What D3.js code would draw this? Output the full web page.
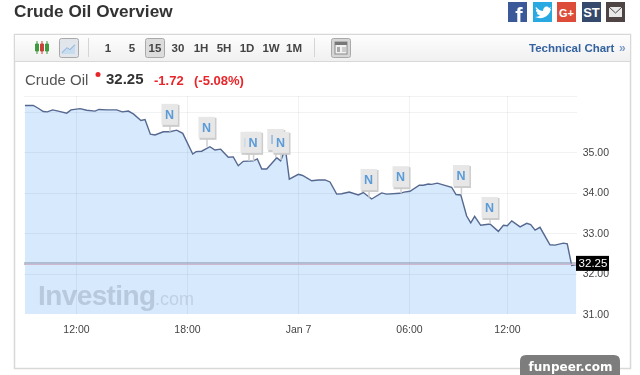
<!DOCTYPE html>
<html>
<head>
<meta charset="utf-8">
<script src="https://cdn.jsdelivr.net/npm/d3@7/dist/d3.min.js"></script>
<style>
html, body { margin: 0; padding: 0; background: #fff; overflow: hidden; }
svg { display: block; font-family: "Liberation Sans", Arial, sans-serif; filter: blur(0.4px); }
</style>
</head>
<body>
<div class="main"></div>
<script>
// hours counted from 12:00 on Jan 6
let hours = [-2.76,-2.31,-2.04,-1.77,-1.55,-1.26,-0.96,-0.50,-0.27,0.22,0.58,1.03,1.24,1.66,2.20,2.50,2.83,3.10,3.51,3.73,4.02,4.27,4.72,5.08,5.44,5.77,6.31,6.49,6.79,7.24,7.51,7.82,8.23,8.50,8.77,9.04,9.58,9.80,10.04,10.31,10.85,11.06,11.24,11.35,11.53,12.02,12.25,12.74,13.10,13.46,13.73,14.09,14.36,14.77,15.26,15.53,15.98,16.52,16.79,17.51,17.73,18.06,18.63,18.88,19.18,19.39,19.73,20.61,20.88,21.17,21.53,21.78,22.02,22.39,22.96,23.47,23.78,24.02,24.29,24.80,25.21,25.45,25.72,26.02,26.63,26.94,27.45,27.69,27.96,28.23]
let prices = [36.15,36.15,36.08,36.00,35.99,36.04,36.01,35.96,36.04,36.07,36.03,36.01,36.05,36.04,36.04,35.99,36.01,35.94,35.78,35.80,35.44,35.42,35.50,35.50,35.54,35.46,34.95,35.01,35.02,35.13,35.05,35.07,34.87,34.88,34.66,34.77,34.78,34.83,34.58,34.58,34.86,34.78,34.99,34.97,34.33,34.45,34.42,34.29,34.31,34.31,34.26,33.96,33.97,34.01,33.94,34.00,33.84,33.99,33.96,33.98,34.01,34.03,34.18,34.18,34.21,34.20,34.23,34.13,33.95,33.94,33.42,33.25,33.41,33.19,33.22,33.04,33.19,33.18,33.30,33.15,33.24,33.21,33.07,33.14,32.71,32.70,32.75,32.73,32.20,32.22]
let lastPrice = 32.25

let xTicks = [0, 6, 12, 18, 24]
let xLabels = ['12:00', '18:00', 'Jan 7', '06:00', '12:00']
let yTicks = [35, 34, 33, 32, 31]
let yGrid = [36, 35, 34, 33, 32, 31]

// news flags: where the pole stands, price at the foot of the box, price at the foot of the pole
let flagHours = [5.08, 7.08, 9.35, 9.6, 10.8, 11.08, 15.84, 17.57, 21.21, 22.96]
let flagTops = [35.67, 35.35, 34.98, 34.98, 35.05, 34.98, 34.06, 34.13, 34.16, 33.37]
let flagFoots = [35.5, 35.13, 34.78, 34.78, 34.86, 34.8, 33.87, 33.98, 33.95, 33.22]

let intervals = ['1', '5', '15', '30', '1H', '5H', '1D', '1W', '1M']
let intervalX = [108, 132, 155, 178, 201, 224, 247, 271, 294]

let plot = {left: 24, right: 577, top: 96, bottom: 314}

let svg = d3.select('.main').append('svg').attr('width', 640).attr('height', 375)

// the feed skips hours after 06:00 so the last stretch is squeezed
let xScale = d3.scaleLinear().domain([0, 18, 24]).range([76, 409, 507])
let yScale = d3.scaleLinear().domain([31, 35]).range([plot.bottom, 152])

// page title and frame
svg.append('text').attr('x', 14).attr('y', 17).text('Crude Oil Overview')
  .style('font-size', '17.2px').style('font-weight', 'bold').style('fill', '#333')

let grad = svg.append('defs').append('linearGradient').attr('id', 'bar').attr('x2', 0).attr('y2', 1)
grad.append('stop').attr('offset', 0).attr('stop-color', '#fdfdfd')
grad.append('stop').attr('offset', 1).attr('stop-color', '#f0f0f0')

svg.append('rect').attr('x', 14.5).attr('y', 34.5).attr('width', 616).attr('height', 334)
  .style('fill', '#fff').style('stroke', '#d8d8d8').style('stroke-width', 1.5)
svg.append('rect').attr('x', 15).attr('y', 35).attr('width', 615).attr('height', 26)
  .style('fill', 'url(#bar)')
svg.append('line').attr('x1', 15).attr('x2', 630).attr('y1', 61.5).attr('y2', 61.5).style('stroke', '#d8d8d8')

// social buttons
let social = [
  {x: 508, c: '#3b5998', t: 'f', s: 22},
  {x: 533, c: '#29a9e1', t: '', s: 0},
  {x: 557, c: '#dd4b39', t: 'G+', s: 11},
  {x: 582, c: '#34496b', t: 'ST', s: 13},
  {x: 606, c: '#4d4443', t: '', s: 0}
]
let btn = svg.append('g').selectAll('g').data(social).enter().append('g')
  .attr('transform', d => `translate(${d.x}, 2)`)
btn.append('rect').attr('width', 19).attr('height', 20).style('fill', d => d.c)
btn.append('text').text(d => d.t).attr('x', d => d.t == 'f' ? 11 : 9.5).attr('y', d => d.t == 'f' ? 21 : 14.5)
  .attr('text-anchor', 'middle').style('fill', '#fff').style('font-weight', 'bold').style('font-size', d => d.s + 'px')
svg.append('path').attr('transform', 'translate(533, 2)')
  .attr('d', 'M3 5 C6 8 8 9 10 9 C10 5 14 3 16 6 L18 5 L17 7 L18 7 C16 15 9 18 2 15 C5 15 6 14 7 13 C5 13 4 12 4 11 L5 11 C3 10 3 9 3 8 L4 8 C3 7 2 6 3 5 Z')
  .style('fill', '#fff')
svg.append('rect').attr('x', 609).attr('y', 7).attr('width', 13).attr('height', 10).style('fill', '#e8e8e8')
svg.append('path').attr('d', 'M609 7 L615.5 13 L622 7').style('fill', 'none').style('stroke', '#4d4443')

// toolbar
let drawButton = (x, w, fill) => svg.append('rect').attr('x', x + 0.5).attr('y', 38.5).attr('width', w).attr('height', 19).attr('rx', 2)
  .style('fill', fill).style('stroke', '#a9a9a9')
drawButton(59, 19, '#e1e6ec')
drawButton(145, 19, '#dcdcdc')
drawButton(331, 19, '#d6d6d6')

svg.append('path').attr('d', 'M62 53 L67 48 L70 50 L75 45').style('fill', 'none').style('stroke', '#7fa6cf').style('stroke-width', 1.3)
svg.append('path').attr('d', 'M62 53 L67 48 L70 50 L75 45 L75 54 L62 54 Z').style('fill', '#c8dcf0')
svg.append('rect').attr('x', 335).attr('y', 42).attr('width', 12).attr('height', 12).style('fill', '#f1f1f1').style('stroke', '#8a8a8a')
svg.append('rect').attr('x', 335).attr('y', 42).attr('width', 12).attr('height', 3).style('fill', '#777')
svg.append('rect').attr('x', 337).attr('y', 47).attr('width', 3).attr('height', 5).style('fill', '#aaa')
svg.append('rect').attr('x', 342).attr('y', 47).attr('width', 4).attr('height', 5).style('fill', '#ccc')

let candles = [[37, '#3f9a3f'], [42, '#c8413b'], [47, '#3f9a3f']]
svg.append('g').selectAll('path').data(candles).enter().append('path')
  .attr('d', d => `M${d[0]} 41 V54 M${d[0] - 1.5} 44 H${d[0] + 1.5} V51 H${d[0] - 1.5} Z`)
  .style('fill', d => d[1]).style('stroke', d => d[1])

svg.append('g').selectAll('line').data([88, 314]).enter().append('line')
  .attr('x1', d => d + 0.5).attr('x2', d => d + 0.5).attr('y1', 38).attr('y2', 57).style('stroke', '#d5d5d5')

svg.append('g').selectAll('text').data(intervals).enter().append('text')
  .text(d => d).attr('x', (d, i) => intervalX[i]).attr('y', 51.5).attr('text-anchor', 'middle')
  .style('font-size', '11.5px').style('font-weight', 'bold').style('fill', '#444')

svg.append('text').attr('x', 529).attr('y', 52).text('Technical Chart')
  .style('font-size', '11.5px').style('font-weight', 'bold').style('fill', '#35639f')
svg.append('text').attr('x', 619).attr('y', 52).text('»')
  .style('font-size', '12px').style('font-weight', 'bold').style('fill', '#7e9cc6')

// quote line
svg.append('text').attr('x', 25).attr('y', 85).text('Crude Oil').style('font-size', '15px').style('fill', '#555')
svg.append('circle').attr('cx', 98).attr('cy', 74.5).attr('r', 2.5).style('fill', '#e8262a')
svg.append('text').attr('x', 106).attr('y', 84).text('32.25').style('font-size', '15px').style('font-weight', 'bold').style('fill', '#333')
svg.append('text').attr('x', 154).attr('y', 84.5).text('-1.72').style('font-size', '13px').style('font-weight', 'bold').style('fill', '#e8262a')
svg.append('text').attr('x', 194).attr('y', 84.5).text('(-5.08%)').style('font-size', '13px').style('font-weight', 'bold').style('fill', '#e8262a')

// chart
svg.append('clipPath').attr('id', 'plot').append('rect')
  .attr('x', plot.left).attr('y', plot.top).attr('width', plot.right - plot.left).attr('height', plot.bottom - plot.top)

let points = hours.map((h, i) => [h, prices[i]])
let area = d3.area().x(d => xScale(d[0])).y0(plot.bottom).y1(d => yScale(d[1]))
let line = d3.line().x(d => xScale(d[0])).y(d => yScale(d[1]))

let chart = svg.append('g').attr('clip-path', 'url(#plot)')

chart.append('path').attr('d', area(points)).style('fill', '#d6e9fd')

// watermark sits on the area, under the line
chart.append('text').attr('x', 38).attr('y', 305).text('Investing')
  .style('font-size', '28px').style('font-weight', 'bold').style('fill', '#b8c9de').style('letter-spacing', '-0.6px')
chart.append('text').attr('x', 155).attr('y', 305).text('.com')
  .style('font-size', '18px').style('fill', '#c0d1e6')

chart.append('g').selectAll('line').data(yGrid).enter().append('line')
  .attr('x1', plot.left).attr('x2', plot.right).attr('y1', d => Math.round(yScale(d)) + 0.5).attr('y2', d => Math.round(yScale(d)) + 0.5)
  .style('stroke', 'rgba(60,70,90,0.07)')
chart.append('g').selectAll('line').data(xTicks).enter().append('line')
  .attr('x1', d => Math.round(xScale(d)) + 0.5).attr('x2', d => Math.round(xScale(d)) + 0.5).attr('y1', plot.top).attr('y2', plot.bottom)
  .style('stroke', 'rgba(60,70,90,0.07)')
chart.append('line').attr('x1', plot.left).attr('x2', plot.right).attr('y1', plot.top + 0.5).attr('y2', plot.top + 0.5)
  .style('stroke', 'rgba(60,70,90,0.07)')

chart.append('path').attr('d', line(points)).style('fill', 'none').style('stroke', '#55688f').style('stroke-width', 1.4)

// last price line, dark with a pink edge
svg.append('line').attr('x1', plot.left).attr('x2', plot.right).attr('y1', yScale(lastPrice) - 0.4).attr('y2', yScale(lastPrice) - 0.4)
  .style('stroke', '#8291a6').style('stroke-width', 1.2)
svg.append('line').attr('x1', plot.left).attr('x2', plot.right).attr('y1', yScale(lastPrice) + 0.9).attr('y2', yScale(lastPrice) + 0.9)
  .style('stroke', '#cdb9cf').style('stroke-width', 1.2)

// axes
let xAxis = d3.axisBottom(xScale).tickValues(xTicks).tickFormat((d, i) => xLabels[i]).tickSize(0)
let yAxis = d3.axisRight(yScale).tickValues(yTicks).tickFormat(d3.format('.2f')).tickSize(0)

let xG = svg.append('g').attr('transform', `translate(0, ${plot.bottom + 9})`).call(xAxis)
let yG = svg.append('g').attr('transform', `translate(${plot.right + 2.7}, 0)`).call(yAxis)
xG.select('.domain').remove()
yG.select('.domain').remove()
svg.selectAll('.tick text').style('font-family', '"Liberation Sans", Arial, sans-serif').style('font-size', '10.5px').style('fill', '#444')

// tag on the price axis
svg.append('rect').attr('x', 576).attr('y', yScale(lastPrice) - 7.5).attr('width', 33).attr('height', 15).style('fill', '#000')
svg.append('text').attr('x', 593).attr('y', yScale(lastPrice) + 4).attr('text-anchor', 'middle').text(d3.format('.2f')(lastPrice))
  .style('font-size', '11.5px').style('fill', '#fff')

// news flags
let flags = svg.append('g').selectAll('g').data(flagHours).enter().append('g')
flags.append('line')
  .attr('x1', d => xScale(d)).attr('x2', d => xScale(d))
  .attr('y1', (d, i) => yScale(flagTops[i])).attr('y2', (d, i) => yScale(flagFoots[i]))
  .style('stroke', '#cfcfcf').style('stroke-width', 1.5)
flags.append('rect')
  .attr('x', d => xScale(d) - 7.5).attr('y', (d, i) => yScale(flagTops[i]) - 20)
  .attr('width', 17).attr('height', 22).style('fill', '#cccccc')
flags.append('rect')
  .attr('x', d => xScale(d) - 8.5).attr('y', (d, i) => yScale(flagTops[i]) - 21)
  .attr('width', 16.5).attr('height', 21).style('fill', '#e7e7e7')
flags.append('text')
  .attr('x', d => xScale(d) - 0.5).attr('y', (d, i) => yScale(flagTops[i]) - 6).attr('text-anchor', 'middle').text('N')
  .style('font-size', '12.5px').style('font-weight', 'bold').style('fill', '#5a9bd8')

// site stamp in the corner
svg.append('path').attr('d', 'M520 375 V361 Q520 355 526 355 H614 Q620 355 620 361 V375 Z').style('fill', '#7d7d7d')
svg.append('text').attr('x', 570.5).attr('y', 370.5).attr('text-anchor', 'middle').text('funpeer.com')
  .style('font-family', '"DejaVu Sans", sans-serif').style('font-size', '12px').style('font-weight', 'bold').style('fill', '#fff')
</script>
</body>
</html>
